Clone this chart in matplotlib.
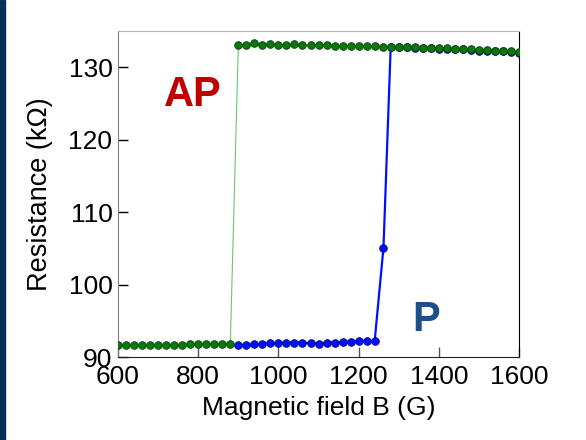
import matplotlib
matplotlib.use("Agg")
import matplotlib.pyplot as plt
from matplotlib.patches import Rectangle

plt.rcParams["font.family"] = ["Liberation Sans", "DejaVu Sans"]

# green sweep (low state then switch to AP)
green_B = [600, 620, 640, 660, 680, 700, 720, 740, 760, 780, 800, 820, 840, 860, 880,
           900, 920, 940, 960, 980, 1000, 1020, 1040, 1060, 1080, 1100, 1120, 1140,
           1160, 1180, 1200, 1220, 1240, 1260, 1280, 1300, 1320, 1340, 1360, 1380,
           1400, 1420, 1440, 1460, 1480, 1500, 1520, 1540, 1560, 1580, 1600]
green_R = [91.6, 91.6, 91.6, 91.6, 91.6, 91.6, 91.7, 91.7, 91.7, 91.8, 91.8, 91.8, 91.8,
           91.8, 91.8,
           133.1, 133.1, 133.35, 133.1, 133.25, 133.05, 133.1, 133.15, 133.05, 133.1,
           133.1, 133.1, 133.0, 133.0, 132.95, 132.9, 132.9, 132.9, 132.85, 132.85,
           132.8, 132.8, 132.75, 132.7, 132.7, 132.6, 132.6, 132.55, 132.5, 132.5,
           132.4, 132.35, 132.3, 132.25, 132.2, 132.05]

# blue sweep (P state then switch)
blue_B = [900, 920, 940, 960, 980, 1000, 1020, 1040, 1060, 1080, 1100, 1120, 1140, 1160,
          1180, 1200, 1220, 1240, 1262, 1280, 1300, 1320, 1340, 1360, 1380, 1400, 1420,
          1440, 1460, 1480, 1500, 1520, 1540, 1560, 1580, 1600]
blue_R = [91.7, 91.6, 91.8, 91.8, 91.9, 91.9, 92.0, 92.0, 92.0, 91.9, 91.8, 92.0, 92.0,
          92.1, 92.1, 92.2, 92.2, 92.2, 105.1, 132.8,
          132.75, 132.75, 132.7, 132.65, 132.6, 132.55, 132.5, 132.5, 132.45, 132.4,
          132.3, 132.3, 132.25, 132.2, 132.1, 132.0]

fig = plt.figure(figsize=(5.86, 4.4), dpi=100)
fig.patches.append(Rectangle((0, 0), 5 / 586, 1, transform=fig.transFigure,
                             color="#08305a", zorder=0))
ax = fig.add_axes([0.2014, 0.1886, 0.6843, 0.7409])

ax.plot(blue_B, blue_R, "-o", color="#0010ff", lw=1.6, ms=5.5,
        mfc="#0010ff", mec="#000080", mew=0.6, zorder=2)
ax.plot(green_B, green_R, "-", color="#6cc46c", lw=0.8, zorder=3)
ax.plot(green_B, green_R, "o", ms=5.5, mfc="#087a08", mec="#0a3a0a",
        mew=0.6, zorder=4)

ax.text(787, 126.2, "AP", color="#c00000", fontsize=30, fontweight="bold",
        ha="center", va="center")
ax.text(1369, 95.1, "P", color="#1f4e8c", fontsize=30, fontweight="bold",
        ha="center", va="center")

ax.set_xlim(600, 1600)
ax.set_ylim(90, 135)
ax.set_xticks([600, 800, 1000, 1200, 1400, 1600])
ax.set_yticks([90, 100, 110, 120, 130])
ax.set_xlabel("Magnetic field B (G)", fontsize=19, labelpad=5)
ax.set_ylabel("Resistance (k\u03a9)", fontsize=19.5, labelpad=11)
ax.tick_params(axis="both", direction="in", labelsize=19, length=7, width=1)
ax.tick_params(axis="x", color="#555555", pad=6)
ax.tick_params(axis="y", color="black", pad=4)

ax.spines["left"].set_color("#808080")
ax.spines["top"].set_color("#b5b5b5")
ax.spines["right"].set_color("black")
ax.spines["bottom"].set_color("#222222")

fig.savefig("out.png", dpi=100)
